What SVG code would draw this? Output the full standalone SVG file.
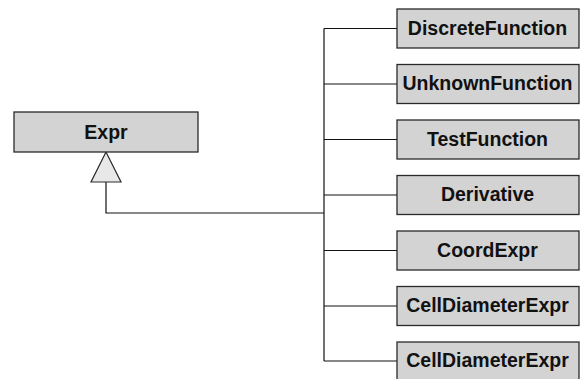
<svg xmlns="http://www.w3.org/2000/svg" width="581" height="379" viewBox="0 0 581 379">
<style>
.box{fill:#d3d3d3;stroke:#2a2a2a;stroke-width:1.3}
.lbl{font-family:"Liberation Sans",Arial,sans-serif;font-weight:bold;font-size:19.5px;fill:#111;text-anchor:middle}
.conn{fill:none;stroke:#111;stroke-width:1.2}
.tri{fill:#e8e8e8;stroke:#2a2a2a;stroke-width:1.2}
</style>
<rect width="581" height="379" fill="#fff"/>
<g id="connectors">
<path class="conn" d="M106,182 V213 H324"/>
<path class="conn" d="M324,28.5 V361"/>
<path class="conn" d="M324,28.5 H397 M324,84 H397 M324,139.5 H397 M324,195 H397 M324,250.5 H397 M324,306 H397 M324,361 H397"/>
<polygon class="tri" points="106,152 91,182 121,182"/>
</g>
<g id="Expr"><rect class="box" x="14" y="112" width="184" height="40"/><text class="lbl" x="106" y="138.5">Expr</text></g>
<g id="DiscreteFunction"><rect class="box" x="397" y="9" width="182" height="39"/><text class="lbl" x="487.5" y="34.5">DiscreteFunction</text></g>
<g id="UnknownFunction"><rect class="box" x="397" y="64.5" width="182" height="39"/><text class="lbl" x="487.5" y="90">UnknownFunction</text></g>
<g id="TestFunction"><rect class="box" x="397" y="120" width="182" height="39"/><text class="lbl" x="487.5" y="145.5">TestFunction</text></g>
<g id="Derivative"><rect class="box" x="397" y="175.5" width="182" height="39"/><text class="lbl" x="487.5" y="201">Derivative</text></g>
<g id="CoordExpr"><rect class="box" x="397" y="231" width="182" height="39"/><text class="lbl" x="487.5" y="256.5">CoordExpr</text></g>
<g id="CellDiameterExpr1"><rect class="box" x="397" y="286.5" width="182" height="39"/><text class="lbl" x="487.5" y="312">CellDiameterExpr</text></g>
<g id="CellDiameterExpr2"><rect class="box" x="397" y="342" width="182" height="39"/><text class="lbl" x="487.5" y="367">CellDiameterExpr</text></g>
</svg>
